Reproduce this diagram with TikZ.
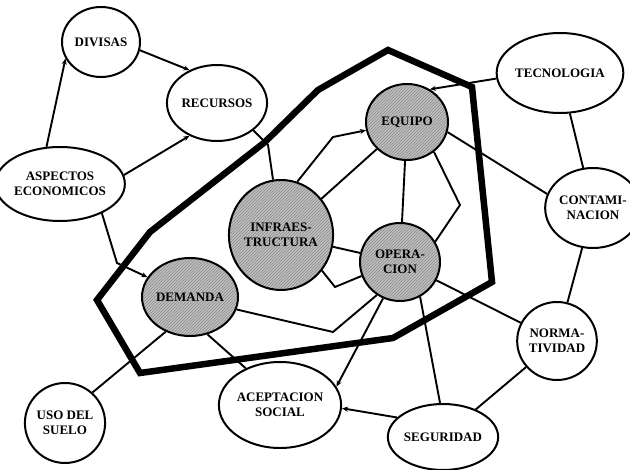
\documentclass[tikz,border=0pt]{standalone}
\usepackage{fontspec}
\setmainfont{Liberation Serif}
\usetikzlibrary{shapes.geometric,arrows.meta,patterns}
\pgfdeclarelayer{background}
\pgfsetlayers{background,main}
\tikzset{
  base/.style={ellipse, draw, line width=2pt, inner sep=0pt, align=center,
    font=\fontsize{13}{15}\selectfont\bfseries},
  nd/.style={base, fill=white},
  sh/.style={base, preaction={fill=gray!50}, pattern=north east lines, pattern color=gray!90},
  ln/.style={line width=1.9pt, line join=miter},
  ar/.style={ln, -{Stealth[length=6pt,width=5pt]}},
  poly/.style={line width=6.5pt, line join=miter}
}
\begin{document}
\begin{tikzpicture}[x=1pt,y=-1pt]
\useasboundingbox (0,0) rectangle (630,470);
% nodes
\node[nd, minimum width=78pt, minimum height=70pt] (divisas) at (101,42) {DIVISAS};
\node[nd, minimum width=80pt, minimum height=76pt] (recursos) at (217,103) {RECURSOS};
\node[nd, minimum width=96pt, minimum height=74pt] (aspectos) at (60,184) {ASPECTOS\\ECONOMICOS};
\node[sh, minimum width=98pt, minimum height=110pt] (infra) at (281,235) {INFRAES-\\TRUCTURA};
\node[sh, minimum width=82pt, minimum height=76pt] (equipo) at (407,122) {EQUIPO};
\node[sh, minimum width=80pt, minimum height=78pt] (operacion) at (400,262) {OPERA-\\CION};
\node[sh, minimum width=80pt, minimum height=78pt] (demanda) at (190,297) {DEMANDA};
\node[nd, minimum width=116pt, minimum height=80pt] (tecno) at (560,73) {TECNOLOGIA};
\node[nd, minimum width=76pt, minimum height=80pt] (contam) at (593,208) {CONTAMI-\\NACION};
\node[nd, minimum width=78pt, minimum height=78pt] (norma) at (557,341) {NORMA-\\TIVIDAD};
\node[nd, minimum width=84pt, minimum height=66pt] (seguridad) at (443,437) {SEGURIDAD};
\node[nd, minimum width=110pt, minimum height=86pt] (acept) at (280,405) {ACEPTACION\\SOCIAL};
\node[nd, minimum width=76pt, minimum height=80pt] (uso) at (65,423) {USO DEL\\SUELO};
\begin{pgfonlayer}{background}
\fill[white] (0,0) rectangle (630,470);
% thick boundary
\draw[poly] (97,300) -- (150,232) -- (265,142) -- (318,90) -- (388,50) -- (472,87)
  -- (492,282) -- (393,338) -- (140,373) -- cycle;
% connectors
\draw[ar] (divisas.348) -- (recursos.130);
\draw[ar] (aspectos.110) -- (divisas.205);
\draw[ar] (aspectos.8) -- (recursos.230);
\draw[ar] (aspectos.325) -- (117,263) -- (demanda);
\draw[ln] (recursos.323) -- (268,145) -- (infra);
\draw[ar] (infra.73) -- (333,137) -- (equipo);
\draw[ln] (infra) -- (equipo);
\draw[ln] (equipo) -- (operacion);
\draw[ln] (equipo.312) -- (460,205) -- (operacion.30);
\draw[ln] (infra) -- (operacion);
\draw[ln] (infra.319) -- (335,287) -- (operacion.200);
\draw[ar] (tecno.185) -- (equipo.55);
\draw[ln] (equipo.346) -- (contam.163);
\draw[ln] (tecno) -- (contam);
\draw[ln] (contam) -- (norma);
\draw[ln] (operacion) -- (norma);
\draw[ln] (norma) -- (seguridad);
\draw[ln] (operacion.300) -- (seguridad.95);
\draw[ar] (seguridad.157) -- (acept.357);
\draw[ar] (operacion.245) -- (acept.18);
\draw[ln] (demanda.345) -- (333,332) -- (operacion.235);
\draw[ln] (demanda.295) -- (acept.133);
\draw[ln] (demanda.235) -- (uso.48);
\end{pgfonlayer}
\end{tikzpicture}
\end{document}
